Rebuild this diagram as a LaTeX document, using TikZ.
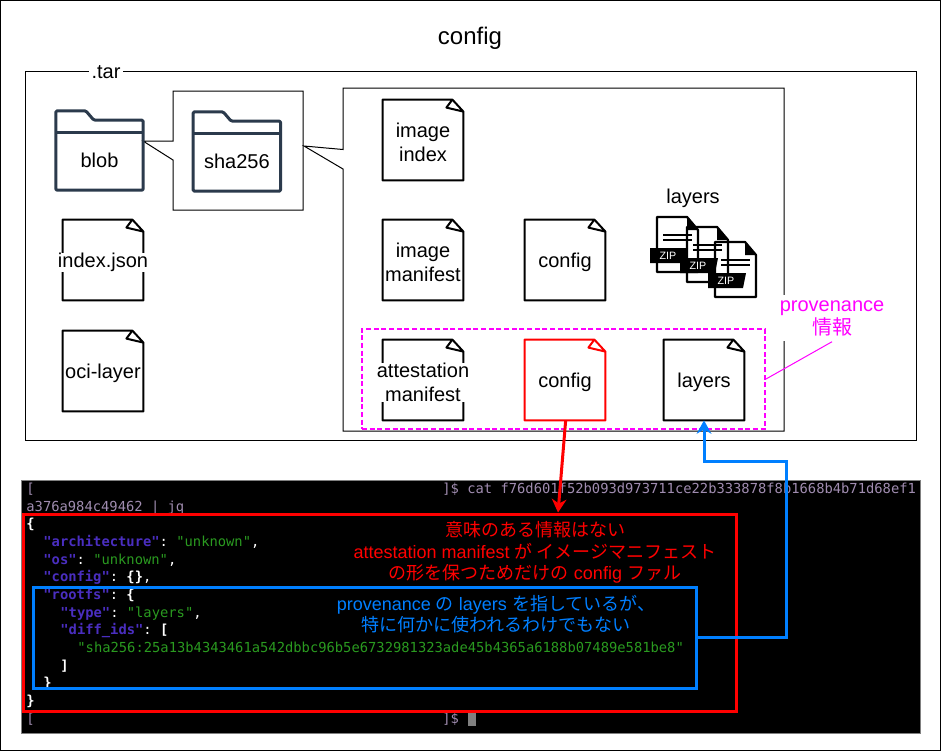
\documentclass[tikz,border=0pt]{standalone}
\usepackage{fontspec}
\setmainfont{Liberation Sans}
\setmonofont{DejaVu Sans Mono}
\newfontfamily\cjk{Noto Sans CJK JP}
\usetikzlibrary{arrows.meta}

\definecolor{folderblue}{HTML}{2B3A4C}
\definecolor{linkblue}{HTML}{007FFF}
\definecolor{pinkline}{HTML}{FF00FF}
\definecolor{termkey}{HTML}{4A2EC0}
\definecolor{termstr}{HTML}{2A9A20}
\definecolor{termcmd}{HTML}{A08CB0}

\tikzstyle{doc} = [rectangle, minimum width=60pt, minimum height=60pt, inner sep=0pt]
\tikzstyle{doclabel} = [rectangle, fill=white, inner xsep=0pt, inner ysep=0pt, align=center, yshift=-1.75pt, font=\fontsize{15}{18}\selectfont]
\tikzstyle{folder} = [rectangle, minimum width=65pt, minimum height=59pt, inner sep=0pt]
\tikzstyle{term} = [anchor=base west, inner sep=0pt, text=white, font=\ttfamily\fontsize{10.35}{12}\selectfont]
\tikzstyle{msg} = [align=center, inner sep=0pt, font=\fontsize{13.5}{16}\selectfont]

\newcommand{\jk}[1]{\textcolor{termkey}{\bfseries #1}}
\newcommand{\js}[1]{\textcolor{termstr}{#1}}

% doc icon: colour, name, placement, text
\newcommand{\docfile}[4][black]{
  \node[doc] (#2) #3 {};
  \draw[#1, line width=1.5pt, line join=round]
    ([xshift=-8.25pt]#2.north east) -- (#2.north west) -- (#2.south west)
    -- (#2.south east) -- ([yshift=-9pt]#2.north east)
    -- ([xshift=-8.25pt]#2.north east) -- ([xshift=-12.75pt, yshift=-6pt]#2.north east)
    -- ([yshift=-9pt]#2.north east);
  \node[doclabel] (#2-label) at (#2) {#4};
}

% folder icon: name, placement, text
\newcommand{\folderfile}[3]{
  \node[folder] (#1) #2 {};
  \draw[folderblue, line width=2.25pt, line join=round, rounded corners=1pt]
    (#1.south west) -- (#1.north west) -- ([xshift=22.5pt]#1.north west)
    -- ([xshift=28.5pt, yshift=-7pt]#1.north west) -- ([yshift=-7pt]#1.north east)
    -- (#1.south east) -- cycle;
  \draw[folderblue, line width=2.25pt]
    ([yshift=-16pt]#1.north west) -- ([yshift=-16pt]#1.north east);
  \node[inner sep=0pt, font=\fontsize{15}{18}\selectfont] (#1-label) at ([yshift=-7.5pt]#1) {#3};
}

\tikzset{
  zipfile/.pic={
    \draw[black, line width=1.7pt, line join=round]
      (30,0) -- (0,0) -- (0,55) -- (41,55) -- (41,13) -- cycle;
    \fill[black] (30,0) -- (41,13) -- (30,13) -- cycle;
    \draw[black, line width=1.4pt] (6,18) -- (35,18);
    \draw[black, line width=1.4pt] (6,23) -- (35,23);
    \fill[black] (-7,31) -- (31,31) -- (28,46) -- (-7,46) -- cycle;
    \node[text=white, inner sep=0pt, font=\fontsize{8}{9}\selectfont] (-tag) at (11,38.5) {ZIP};
  }
}

\begin{document}
\begin{tikzpicture}[x=0.75pt, y=-0.75pt, node distance=90pt, semithick]
\useasboundingbox (0,0) rectangle (941,751);
\draw[black, line width=0.75pt] (0.5,0.5) rectangle (940.5,750.5);

\node[font=\fontsize{18}{22}\selectfont] (title) at (470,38.5) {config};

% tar box
\node[draw=black, line width=0.75pt, minimum width=668.25pt, minimum height=276.75pt, inner sep=0pt] (tarbox) at (470.5,255.5) {};
\node[fill=white, inner xsep=2pt, inner ysep=0pt, font=\fontsize{15}{18}\selectfont] (tarlabel) at (106,72) {.tar};

% callouts
\coordinate (blobtip) at (143,141);
\coordinate (shatip) at (304,146);
\draw[black, line width=0.75pt, fill=white] (173,91) -- (173,141) -- (blobtip) -- (173,160)
  -- (173,210) -- (303,210) -- (303,91) -- cycle;
\draw[black, line width=0.75pt, fill=white] (343,88) -- (343,149.5) -- (shatip) -- (343,169)
  -- (343,431) -- (784,431) -- (784,88) -- cycle;

\folderfile{blob}{at (99.5,150.5)}{blob}
\folderfile{sha}{[right of=blob, xshift=13pt, yshift=-0.75pt]}{sha256}

\docfile{indexjson}{at (103,260)}{index.json}
\docfile{ocilayer}{[below of=indexjson, yshift=6.75pt]}{oci-layer}

\docfile{imageindex}{at (423,140)}{image\\index}
\docfile{imagemanifest}{[below of=imageindex]}{image\\manifest}
\docfile{attestation}{at (423,380)}{attestation\\manifest}
\docfile{imageconfig}{at (565,260)}{config}
\docfile[red]{attconfig}{at (565,380)}{config}
\docfile{attlayers}{[right of=attconfig, xshift=14.25pt]}{layers}

% zip layers
\node[font=\fontsize{15}{18}\selectfont, inner sep=0pt] (layerstitle) at (693,198.5) {layers};
\pic (zipa) at (657,217) {zipfile};
\pic (zipb) at (687,227) {zipfile};
\pic (zipc) at (715,242) {zipfile};

% provenance
\node[draw=pinkline, dash pattern=on 3.75pt off 2pt, line width=1.5pt, minimum width=302.25pt, minimum height=75pt, inner sep=0pt] (provbox) at (563.5,379) {};
\node[fill=white, text=pinkline, align=center, inner sep=0pt, minimum height=35pt, font=\fontsize{15}{17.25}\selectfont] (provlabel) at (832,318) {provenance\\{\cjk 情報}};
\draw[pinkline, line width=0.75pt] (provbox.east) -- (provlabel.south);

% terminal
\node[fill=black, draw=gray, line width=0.75pt, minimum width=674.25pt, minimum height=189.5pt, inner sep=0pt] (terminal) at (471,607) {};
\node[term, text=termcmd] (line1) at (26,493.5) {[};
\node[term, text=termcmd] (line1b) at (442,493.5) {]\$ cat f76d601f52b093d973711ce22b333878f8b1668b4b71d68ef1};
\node[term, text=termcmd] (line2) at (26,511.5) {a376a984c49462 | jq};
\node[term] (line3) at (26,528.5) {\bfseries\{};
\node[term] (line4) at (43,546) {\jk{"architecture"}: \js{"unknown"},};
\node[term] (line5) at (43,564) {\jk{"os"}: \js{"unknown"},};
\node[term] (line6) at (43,581.5) {\jk{"config"}: {\bfseries\{\}},};
\node[term] (line7) at (43,599) {\jk{"rootfs"}: {\bfseries\{}};
\node[term] (line8) at (60,617) {\jk{"type"}: \js{"layers"},};
\node[term] (line9) at (60,634.5) {\jk{"diff\_ids"}: {\bfseries[}};
\node[term] (line10) at (77,652) {\js{"sha256:25a13b4343461a542dbbc96b5e6732981323ade45b4365a6188b07489e581be8"}};
\node[term] (line11) at (60,670) {\bfseries ]};
\node[term] (line12) at (43,687.5) {\bfseries\}};
\node[term] (line13) at (26,705) {\bfseries\}};
\node[term, text=termcmd] (line14) at (26,723) {[};
\node[term, text=termcmd] (line14b) at (442,723) {]\$};
\node[fill=gray, minimum width=6pt, minimum height=10.5pt, inner sep=0pt] (cursor) at (472,719) {};

% message boxes
\node[draw=red, line width=2.25pt, minimum width=534.75pt, minimum height=147.75pt, inner sep=0pt] (redbox) at (379.5,612.5) {};
\node[draw=linkblue, line width=2.25pt, minimum width=497.25pt, minimum height=75.75pt, inner sep=0pt] (bluebox) at (364.5,637.5) {};
\node[msg, text=red] (redmsg) at (535,552.5) {{\cjk 意味のある情報はない}\\attestation manifest {\cjk が イメージマニフェスト}\\{\cjk の形を保つためだけの} config {\cjk ファル}};
\node[msg, text=linkblue] (bluemsg) at (496,614) {provenance {\cjk の} layers {\cjk を指しているが、}\\{\cjk 特に何かに使われるわけでもない}};

\coordinate (bluecorner) at (786,461);
\draw[red, line width=2.25pt, -{Stealth[length=10pt, width=11pt]}] ([xshift=0.5pt]attconfig.south) -- ([xshift=133.9pt]redbox.north);
\draw[linkblue, line width=2.25pt, -{Stealth[length=10pt, width=11pt]}] (bluebox.east) -| (bluecorner) -| (attlayers.south);

\end{tikzpicture}
\end{document}
